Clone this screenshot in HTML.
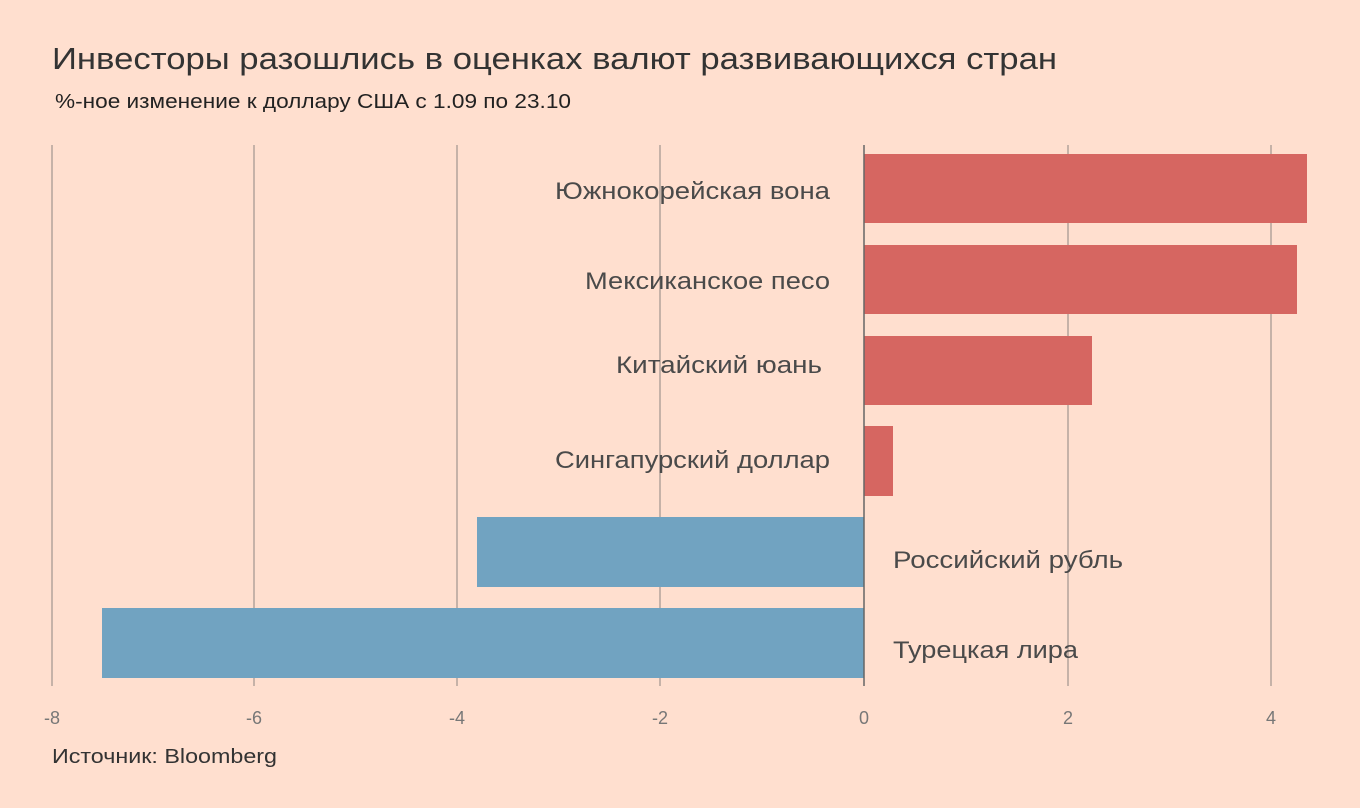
<!DOCTYPE html><html><head><meta charset="utf-8"><style>body{margin:0;background:#ffdfcf}svg{display:block;font-family:"Liberation Sans","DejaVu Sans",sans-serif}</style></head><body>
<svg width="1360" height="808" viewBox="0 0 1360 808">
<rect width="1360" height="808" fill="#ffdfcf"/>
<text x="52" y="69" font-size="31" fill="#333" textLength="1005" lengthAdjust="spacingAndGlyphs">Инвесторы разошлись в оценках валют развивающихся стран</text>
<text x="55" y="108" font-size="20" fill="#222" textLength="516" lengthAdjust="spacingAndGlyphs">%-ное изменение к доллару США с 1.09 по 23.10</text>
<g stroke="#a89a94" stroke-width="1.3">
<line x1="52" y1="145" x2="52" y2="686"/><line x1="254" y1="145" x2="254" y2="686"/><line x1="457" y1="145" x2="457" y2="686"/><line x1="660" y1="145" x2="660" y2="686"/><line x1="1068" y1="145" x2="1068" y2="686"/><line x1="1271" y1="145" x2="1271" y2="686"/></g>
<g fill="#d66661"><rect x="864" y="154" width="443" height="69"/><rect x="864" y="245" width="433" height="69"/><rect x="864" y="336" width="228" height="69"/><rect x="864" y="426" width="29" height="70"/></g>
<g fill="#71a3c1"><rect x="477" y="517" width="387" height="70"/><rect x="102" y="608" width="762" height="70"/></g>
<line x1="864" y1="145" x2="864" y2="686" stroke="#666" stroke-width="1.5"/>
<g font-size="24" fill="#4a4a4a">
<text x="555" y="199" textLength="275" lengthAdjust="spacingAndGlyphs">Южнокорейская вона</text>
<text x="585" y="289" textLength="245" lengthAdjust="spacingAndGlyphs">Мексиканское песо</text>
<text x="616" y="373" textLength="206" lengthAdjust="spacingAndGlyphs">Китайский юань</text>
<text x="555" y="468" textLength="275" lengthAdjust="spacingAndGlyphs">Сингапурский доллар</text>
<text x="893" y="568" textLength="230" lengthAdjust="spacingAndGlyphs">Российский рубль</text>
<text x="893" y="658" textLength="185" lengthAdjust="spacingAndGlyphs">Турецкая лира</text></g>
<g font-size="18" fill="#777" text-anchor="middle"><text x="52" y="724">-8</text><text x="254" y="724">-6</text><text x="457" y="724">-4</text><text x="660" y="724">-2</text><text x="864" y="724">0</text><text x="1068" y="724">2</text><text x="1271" y="724">4</text></g>
<text x="52" y="763" font-size="20" fill="#333" textLength="225" lengthAdjust="spacingAndGlyphs">Источник: Bloomberg</text>
</svg></body></html>
